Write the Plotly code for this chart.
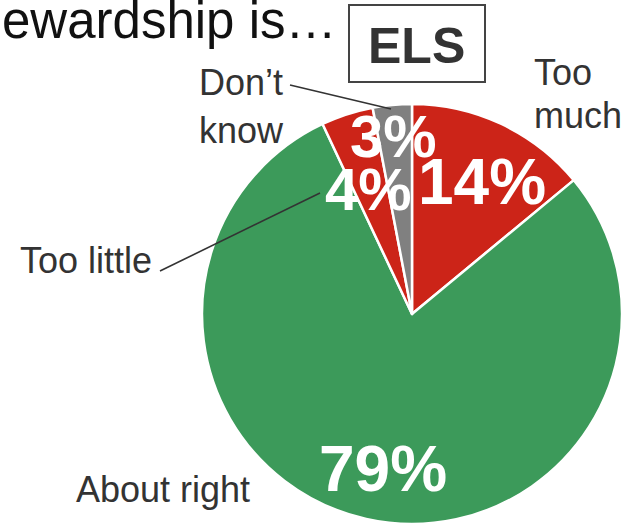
import math
import plotly.graph_objects as go

# Survey answers, clockwise from 12 o'clock
categories = ["Too much", "About right", "Too little", "Don't know"]
shares = [14, 79, 4, 3]
pct_labels = ["14%", "79%", "4%", "3%"]
title_text = "ewardship is…"
badge_text = "ELS"

W, H = 630, 526
CX, CY, R = 412, 314, 210          # pie centre and radius in pixels
FONT = "Liberation Sans, Arial, Helvetica, sans-serif"

slice_colors = {
    "Too much": "#CC2418",
    "About right": "#3C9A5A",
    "Too little": "#CC2418",
    "Don't know": "#808080",
}

# radial fraction, angular nudge (deg) and font size for the percentage labels
pct_style = {
    "Too much": dict(rf=0.71, nudge=2.7, size=64),
    "About right": dict(rf=0.75, nudge=-2.0, size=64),
    "Too little": dict(rf=0.63, nudge=-1.4, size=60),
    "Don't know": dict(rf=0.85, nudge=-0.7, size=60),
}


def px(x):
    return x / W


def py(y):
    return 1 - y / H


fig = go.Figure(
    go.Pie(
        labels=categories,
        values=shares,
        sort=False,
        direction="clockwise",
        rotation=0,
        marker=dict(colors=[slice_colors[c] for c in categories],
                    line=dict(color="white", width=2.5)),
        textinfo="none",
        hoverinfo="skip",
        showlegend=False,
        domain=dict(x=[px(CX - R), px(CX + R)], y=[py(CY + R), py(CY - R)]),
    )
)

annotations = []

# percentage labels placed along each slice's bisector
total = sum(shares)
start = 0.0
for cat, val, lab in zip(categories, shares, pct_labels):
    st = pct_style[cat]
    mid = math.radians((start + val / 2) / total * 360 + st["nudge"])
    x = CX + st["rf"] * R * math.sin(mid)
    y = CY - st["rf"] * R * math.cos(mid)
    annotations.append(dict(
        x=px(x), y=py(y), xref="paper", yref="paper",
        text=f"<b>{lab}</b>", showarrow=False,
        xanchor="center", yanchor="middle",
        font=dict(family=FONT, size=st["size"], color="white"),
    ))
    start += val


def label(text, x, y, size=36, color="#333333", xanchor="left", bold=False):
    annotations.append(dict(
        x=px(x), y=py(y), xref="paper", yref="paper",
        text=f"<b>{text}</b>" if bold else text, showarrow=False,
        xanchor=xanchor, yanchor="middle",
        font=dict(family=FONT, size=size, color=color),
    ))


# category names outside the pie
label("Too", 532, 72)
label("much", 532, 115)
label("Don’t", 197, 83)
label("know", 197, 130)
label("Too little", 18, 260)
label("About right", 74, 489)

# heading and badge
label(title_text, 0, 21, size=51, color="#111111")
label(badge_text, 416, 46, size=50, color="#333333", xanchor="center", bold=True)

shapes = [
    dict(type="rect", xref="paper", yref="paper",
         x0=px(349), x1=px(485), y0=py(5), y1=py(82),
         line=dict(color="#444444", width=2), fillcolor="rgba(0,0,0,0)"),
    # leader lines
    dict(type="line", xref="paper", yref="paper",
         x0=px(290), y0=py(85), x1=px(391), y1=py(109),
         line=dict(color="#333333", width=1.6)),
    dict(type="line", xref="paper", yref="paper",
         x0=px(160), y0=py(271), x1=px(320), y1=py(193),
         line=dict(color="#333333", width=1.6)),
]

fig.update_layout(
    width=W, height=H,
    margin=dict(l=0, r=0, t=0, b=0),
    paper_bgcolor="white",
    plot_bgcolor="white",
    annotations=annotations,
    shapes=shapes,
)

fig.write_html("out.html")
